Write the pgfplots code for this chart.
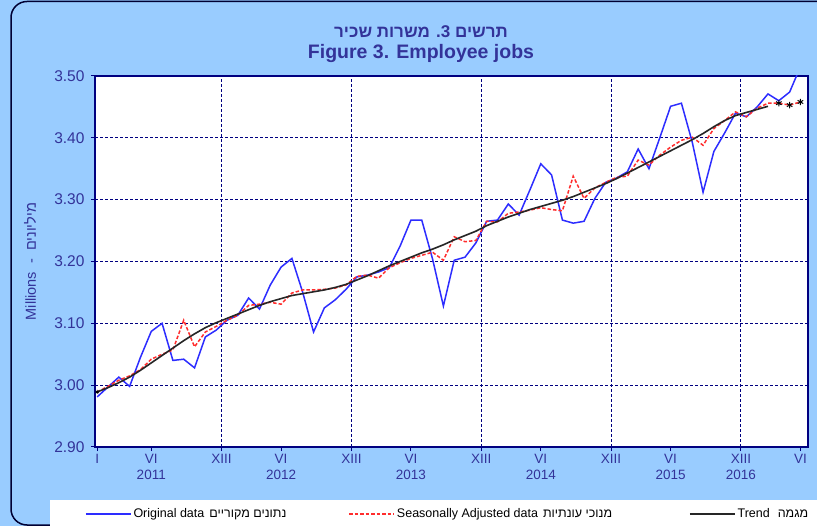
\documentclass[border=0pt]{standalone}
\usepackage{pgfplots}
\pgfplotsset{compat=1.18}
\usepackage{pgfplotstable}
\usepackage{fontspec}
\setmainfont{Liberation Sans}
\newfontfamily\heb[Script=Hebrew]{Liberation Sans}
\TeXXeTstate=1
\definecolor{bgblue}{RGB}{153,204,255}
\definecolor{navy}{RGB}{0,0,128}
\definecolor{txtblue}{RGB}{51,51,153}
\definecolor{origblue}{RGB}{45,45,255}
\definecolor{sared}{RGB}{255,45,45}
\pgfplotstableread{
m o s
0 2.981 2.989
1 2.997 2.998
2 3.013 3.008
3 2.998 3.015
4 3.045 3.025
5 3.087 3.042
6 3.100 3.050
7 3.040 3.057
8 3.042 3.105
9 3.028 3.062
10 3.078 3.086
11 3.089 3.095
12 3.105 3.105
13 3.113 3.113
14 3.141 3.129
15 3.123 3.131
16 3.162 3.134
17 3.191 3.131
18 3.205 3.149
19 3.150 3.154
20 3.086 3.154
21 3.125 3.155
22 3.138 3.157
23 3.155 3.162
24 3.175 3.176
25 3.178 3.178
26 3.183 3.173
27 3.190 3.190
28 3.225 3.198
29 3.267 3.205
30 3.267 3.210
31 3.204 3.215
32 3.128 3.202
33 3.202 3.240
34 3.207 3.232
35 3.230 3.234
36 3.265 3.265
37 3.267 3.264
38 3.293 3.278
39 3.275 3.280
40 3.316 3.283
41 3.358 3.287
42 3.340 3.284
43 3.267 3.282
44 3.262 3.338
45 3.265 3.302
46 3.302 3.319
47 3.328 3.328
48 3.335 3.336
49 3.345 3.338
50 3.382 3.364
51 3.350 3.356
52 3.400 3.372
53 3.451 3.385
54 3.456 3.396
55 3.393 3.401
56 3.312 3.388
57 3.378 3.415
58 3.408 3.428
59 3.440 3.442
60 3.434 3.434
61 3.450 3.448
62 3.471 3.456
63 3.460 3.456
64 3.474 3.453
65 3.515 3.458
}\datatab
\pgfplotstableread{
m t
0 2.989
1 2.996
2 3.004
3 3.013
4 3.024
5 3.036
6 3.048
7 3.060
8 3.072
9 3.083
10 3.093
11 3.101
12 3.108
13 3.115
14 3.122
15 3.129
16 3.135
17 3.140
18 3.145
19 3.148
20 3.151
21 3.154
22 3.158
23 3.163
24 3.170
25 3.177
26 3.185
27 3.193
28 3.200
29 3.207
30 3.214
31 3.220
32 3.227
33 3.235
34 3.242
35 3.249
36 3.258
37 3.265
38 3.272
39 3.278
40 3.284
41 3.289
42 3.294
43 3.299
44 3.305
45 3.312
46 3.319
47 3.326
48 3.334
49 3.343
50 3.352
51 3.361
52 3.370
53 3.379
54 3.388
55 3.397
56 3.407
57 3.418
58 3.428
59 3.436
60 3.441
61 3.446
62 3.451
}\trendtab
\begin{document}
\begin{tikzpicture}
\useasboundingbox (0,0) rectangle (817bp,526bp);
\fill[bgblue] (-5bp,-5bp) rectangle (830bp,535bp);
\draw[line width=1.5bp, black!80!blue, rounded corners=16bp] (11bp,1bp) rectangle (870bp,524.5bp);
\fill[white] (50bp,-5bp) rectangle (830bp,26bp);
\node[txtblue, font=\fontsize{17bp}{20bp}\selectfont\bfseries] at (421bp,494bp) {\heb\beginR תרשים 3. משרות שכיר\endR};
\node[txtblue, font=\fontsize{19.5bp}{22bp}\selectfont\bfseries] at (421bp,472bp) {Figure 3. Employee jobs};
\begin{axis}[
  at={(95bp,79bp)}, anchor=south west, scale only axis,
  width=713bp, height=371bp,
  xmin=-0.2, xmax=65.7, ymin=2.9, ymax=3.5,
  axis background/.style={fill=white},
  axis line style={navy, line width=1.1bp},
  xtick={0,5,17,29,41,53,65},
  xticklabels={I,{VI\\2011},{VI\\2012},{VI\\2013},{VI\\2014},{VI\\2015},VI},
  extra x ticks={11.5,23.5,35.5,47.5,59.5},
  extra x tick labels={XIII,XIII,XIII,XIII,{XIII\\2016}},
  extra x tick style={grid=major},
  xticklabel style={align=center, font=\fontsize{13.5bp}{16bp}\selectfont, text=txtblue},
  ytick={2.9,3.0,3.1,3.2,3.3,3.4,3.5},
  yticklabels={2.90,3.00,3.10,3.20,3.30,3.40,3.50},
  yticklabel style={font=\fontsize{15.5bp}{18bp}\selectfont, text=txtblue, xshift=-3bp},
  ymajorgrids,
  grid style={navy, line width=1bp, dash pattern=on 3bp off 2bp},
  tick align=outside, major tick length=4bp, tick style={navy, line width=1bp},
  xtick pos=bottom, ytick pos=left,
  ylabel={Millions~~-~~{\heb\beginR מיליונים\endR}},
  every axis y label/.style={at={(axis description cs:-0.091,0.5)}, rotate=90, anchor=center, font=\fontsize{14.5bp}{17bp}\selectfont, text=txtblue},
  legend columns=3,
  legend style={at={(axis description cs:-0.014,-0.181)}, anchor=west, draw=none, fill=none, inner sep=0pt, outer sep=0pt, font=\fontsize{12.5bp}{14bp}\selectfont, text=black},
  legend cell align=left,
  legend image code/.code={\draw[#1] (0bp,0bp) -- (45bp,0bp);},
]
\addplot[origblue, line width=1.5bp] table[x=m,y=o]{\datatab};
\addlegendentry{\makebox[213bp][l]{Original data\hspace{5bp}{\heb\beginR נתונים מקוריים\endR}}}
\addplot[sared, line width=1.5bp, dash pattern=on 3.5bp off 2bp] table[x=m,y=s]{\datatab};
\addlegendentry{\makebox[290bp][l]{Seasonally Adjusted data\hspace{5bp}{\heb\beginR מנוכי עונתיות\endR}}}
\addplot[black!85, line width=1.6bp] table[x=m,y=t]{\trendtab};
\addlegendentry{Trend\hspace{8bp}{\heb\beginR מגמה\endR}}
\addplot[only marks, mark=asterisk, mark size=3.2bp, black, line width=1bp, forget plot] coordinates {(63,3.456) (64,3.453) (65,3.458)};
\addplot[only marks, mark=asterisk, mark size=2bp, black, line width=0.7bp, forget plot] coordinates {(0,2.989)};
\end{axis}
\end{tikzpicture}
\end{document}
